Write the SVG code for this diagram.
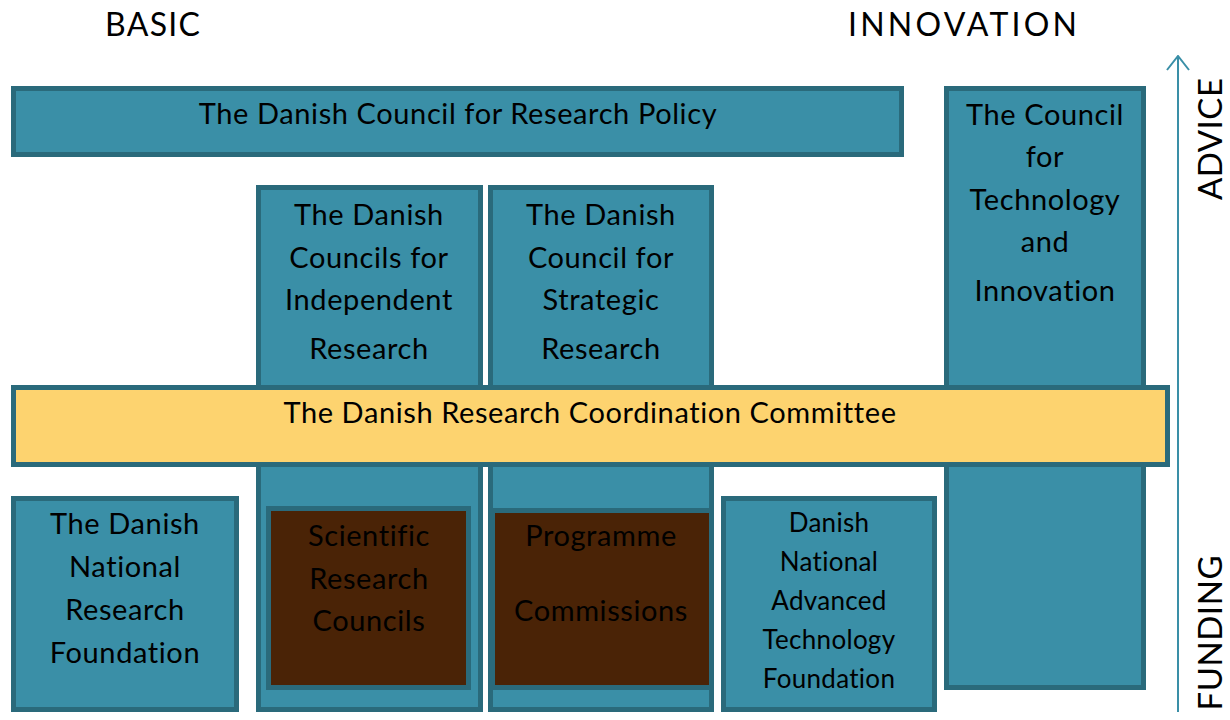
<svg xmlns="http://www.w3.org/2000/svg" width="1230" height="720" viewBox="0 0 1230 720">
  <style>
    .box { fill: #3a8fa7; stroke: #2a6a7b; stroke-width: 5; }
    .core { fill: #fdd36f; stroke: #2a6a7b; stroke-width: 5; }
    .inner { fill: #4a2306; stroke: #2a6a7b; stroke-width: 5; }
    text { font-family: "Lato", "Open Sans", "Liberation Sans", sans-serif; fill: #000; text-anchor: middle; }
    .t { font-size: 29px; letter-spacing: 0.6px; }
    .s { font-size: 26px; letter-spacing: 0.3px; }
    .head { font-size: 32px; text-anchor: start; }
    .axis { font-size: 33px; }
  </style>
  <defs>
    <marker id="open" markerWidth="16" markerHeight="24" refX="15" refY="12" orient="auto" markerUnits="userSpaceOnUse" viewBox="0 0 16 24">
      <path d="M1 1 L15 12 L1 23" fill="none" stroke="#3a8fa7" stroke-width="2"/>
    </marker>
  </defs>
  <rect width="1230" height="720" fill="#ffffff"/>

  <text class="head" x="105" y="36" textLength="95" lengthAdjust="spacing">BASIC</text>
  <text class="head" x="848" y="36" textLength="229" lengthAdjust="spacing">INNOVATION</text>

  <g id="policy">
    <rect class="box" x="13.5" y="88.5" width="888" height="66"/>
    <text class="t" x="458" y="124">The Danish Council for Research Policy</text>
  </g>

  <g id="independent">
    <rect class="box" x="258.5" y="187.5" width="222" height="522"/>
    <text class="t" x="369" y="225">The Danish</text>
    <text class="t" x="369" y="268">Councils for</text>
    <text class="t" x="369" y="310">Independent</text>
    <text class="t" x="369" y="359">Research</text>
  </g>

  <g id="strategic">
    <rect class="box" x="490.5" y="187.5" width="221" height="522"/>
    <text class="t" x="601" y="225">The Danish</text>
    <text class="t" x="601" y="268">Council for</text>
    <text class="t" x="601" y="310">Strategic</text>
    <text class="t" x="601" y="359">Research</text>
  </g>

  <g id="technology">
    <rect class="box" x="946.5" y="88.5" width="197" height="599"/>
    <text class="t" x="1045" y="125">The Council</text>
    <text class="t" x="1045" y="167">for</text>
    <text class="t" x="1045" y="210">Technology</text>
    <text class="t" x="1045" y="252">and</text>
    <text class="t" x="1045" y="301">Innovation</text>
  </g>

  <g id="coordination">
    <rect class="core" x="13.5" y="387.5" width="1154" height="77"/>
    <text class="t" x="590" y="423">The Danish Research Coordination Committee</text>
  </g>

  <g id="national-foundation">
    <rect class="box" x="13.5" y="498.5" width="223" height="211"/>
    <text class="t" x="125" y="534">The Danish</text>
    <text class="t" x="125" y="577">National</text>
    <text class="t" x="125" y="620">Research</text>
    <text class="t" x="125" y="663">Foundation</text>
  </g>

  <g id="scientific">
    <rect class="inner" x="268.5" y="508.5" width="200" height="179"/>
    <text class="t" x="369" y="546">Scientific</text>
    <text class="t" x="369" y="589">Research</text>
    <text class="t" x="369" y="631">Councils</text>
  </g>

  <g id="programme">
    <rect class="inner" x="492.5" y="510.5" width="219" height="177"/>
    <text class="t" x="601" y="546">Programme</text>
    <text class="t" x="601" y="621">Commissions</text>
  </g>

  <g id="advanced-technology">
    <rect class="box" x="723.5" y="498.5" width="211" height="211"/>
    <text class="s" x="829" y="532">Danish</text>
    <text class="s" x="829" y="571">National</text>
    <text class="s" x="829" y="610">Advanced</text>
    <text class="s" x="829" y="649">Technology</text>
    <text class="s" x="829" y="688">Foundation</text>
  </g>

  <g id="connectors">
    <line x1="1178" y1="712" x2="1178" y2="56" stroke="#3a8fa7" stroke-width="2" marker-end="url(#open)"/>
  </g>

  <text class="axis" transform="translate(1222 139) rotate(-90)" textLength="122" lengthAdjust="spacing">ADVICE</text>
  <text class="axis" transform="translate(1222 633) rotate(-90)" textLength="155" lengthAdjust="spacing">FUNDING</text>
</svg>
